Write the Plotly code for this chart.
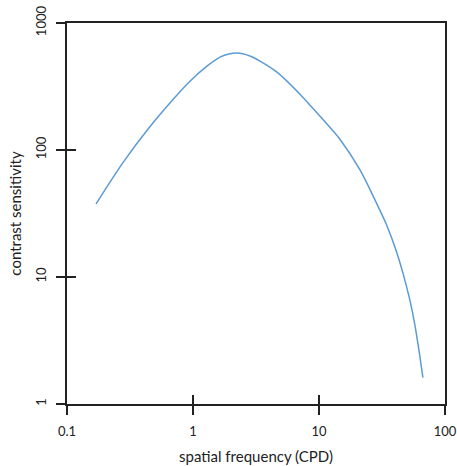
import plotly.graph_objects as go

freq = [0.170, 0.278, 0.456, 0.694, 0.946, 1.29, 1.64, 2.23, 2.83, 3.40, 4.64,
        7.06, 10.2, 14.7, 21.1, 27.8, 34.4, 40.8, 46.9, 52.7, 57.8, 62.2, 66.8]
sens = [37.6, 79.5, 153, 250, 348, 457, 539, 580, 550, 501, 410,
        275, 184, 121, 70, 40.5, 25.7, 16.3, 10.3, 6.54, 4.15, 2.63, 1.61]

x_ticks = [0.1, 1, 10, 100]
x_labels = ["0.1", "1", "10", "100"]
y_ticks = [1, 10, 100, 1000]
y_labels = ["1", "10", "100", "1000"]

FONT = "Lato, 'Open Sans', sans-serif"
AX = "#222222"

fig = go.Figure()
fig.add_trace(go.Scatter(x=freq, y=sens, mode="lines",
                         line=dict(color="#5B9BD5", width=1.5, shape="spline", smoothing=0.8),
                         showlegend=False, hoverinfo="skip"))
fig.add_trace(go.Scatter(x=freq, y=sens, mode="lines", xaxis="x2", yaxis="y2",
                         line=dict(color="rgba(0,0,0,0)", width=0), showlegend=False, hoverinfo="skip"))

common = dict(type="log", showgrid=False, zeroline=False, showline=True, linecolor=AX, linewidth=1.5,
              tickcolor=AX, tickwidth=1.5, ticklen=9, automargin=False)

fig.update_layout(
    width=457, height=466,
    margin=dict(l=67, r=12, t=23, b=62),
    paper_bgcolor="white", plot_bgcolor="white",
    font=dict(family=FONT, color=AX, size=13),
    xaxis=dict(**common, range=[-1, 2], ticks="outside", mirror=True,
               tickvals=x_ticks, ticktext=x_labels, ticklabelstandoff=6,
               title=dict(text="spatial frequency (CPD)", font=dict(size=15), standoff=13)),
    yaxis=dict(**common, range=[0, 3], ticks="outside", mirror=True,
               tickvals=y_ticks, ticktext=y_labels, tickangle=-90, ticklabelstandoff=5,
               title=dict(text="contrast sensitivity", font=dict(size=15), standoff=8)),
    xaxis2=dict(**common, range=[-1, 2], ticks="inside", overlaying="x", side="bottom",
                tickvals=x_ticks, showticklabels=False),
    yaxis2=dict(**common, range=[0, 3], ticks="inside", overlaying="y", side="left",
                tickvals=y_ticks, showticklabels=False),
)

fig.write_html("out.html")
